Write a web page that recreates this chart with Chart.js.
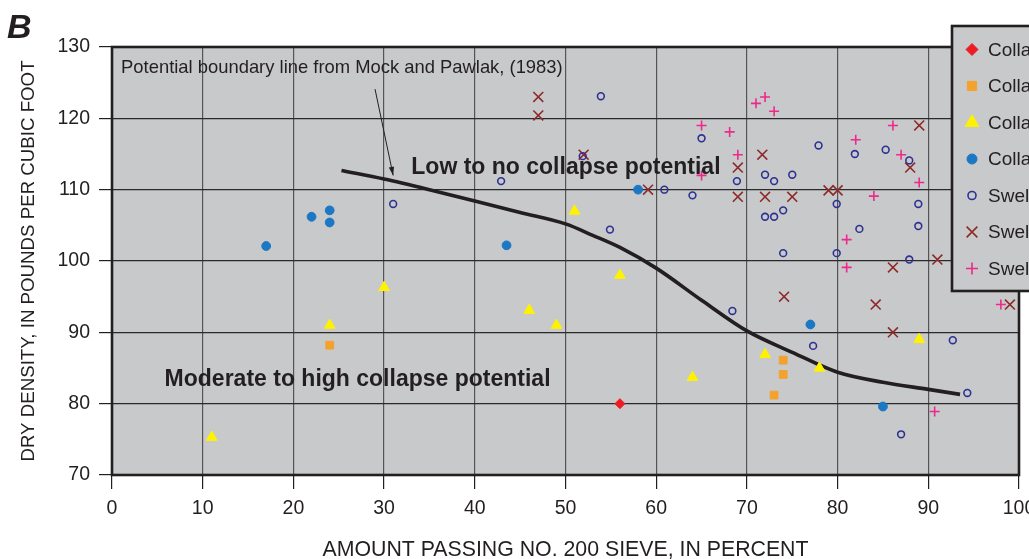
<!DOCTYPE html>
<html>
<head>
<meta charset="utf-8">
<script src="https://cdn.jsdelivr.net/npm/chart.js@4.4.1/dist/chart.umd.min.js"></script>
<style>
html,body{margin:0;padding:0;background:#fff;overflow:hidden}
#wrap{width:1029px;height:559px;position:relative}
</style>
</head>
<body>
<div id="wrap"><canvas id="c"></canvas></div>
<script>
// ---- data (x = amount passing No. 200 sieve, %, y = dry density, pcf) ----
const xTickValues = [0,10,20,30,40,50,60,70,80,90,100];
const yTickValues = [70,80,90,100,110,120,130];

const seriesLabels = [
  'Collapse, severe',
  'Collapse, moderately severe',
  'Collapse, moderate',
  'Collapse, slight',
  'Swell, low',
  'Swell, moderate',
  'Swell, high'
];

const collapseSevere = [[56,80]];
const collapseModSevere = [[24,88.2],[74,86.1],[74,84.1],[73,81.2]];
const collapseModerate = [[11,75.3],[24,91],[30,96.3],[46,93.1],[49,91],[51,107],[56,98],[64,83.7],[72,86.9],[78,85],[89,89]];
const collapseSlight = [[17,102.1],[22,106.2],[24,107.1],[24,105.4],[43.5,102.2],[58,110],[77,91.1],[85,79.6]];
const swellLow = [[31,108],[42.9,111.2],[51.9,114.7],[53.9,123.1],[54.9,104.4],[60.9,110],[64,109.2],[65,117.2],[68.4,93],[68.9,111.2],[72,112.1],[73,111.2],[75,112.1],[72,106.2],[73,106.2],[74,107.1],[74,101.1],[77.3,88.1],[77.9,116.2],[79.9,108],[79.9,101.1],[81.9,115],[82.4,104.5],[85.3,115.6],[87,75.7],[87.9,114.1],[87.9,100.2],[88.9,108],[88.9,104.9],[92.7,88.9],[94.3,81.5]];
const swellModerate = [[47,123],[47,120.4],[52,114.9],[59.1,110],[69,113.1],[69,109],[71.7,114.9],[72,109],[74.1,95],[75,109],[79,109.9],[80,109.9],[84.2,93.9],[86.1,99.1],[86.1,90],[88,113.1],[89,119],[91,100.2],[99,93.9]];
const swellHigh = [[65,119],[65,112],[68.1,118.1],[69,114.9],[71,122.1],[72,123],[73,121],[81,103],[81,99.1],[82,117],[84,109.1],[86.1,119],[87,114.9],[89,111],[90.7,78.9],[98,93.9]];
const boundaryLine = [[25.3,112.7],[30,111.5],[35,110],[40,108.4],[45,106.8],[50,105.2],[53,103.6],[56,101.9],[60,99],[65,94.5],[70,90.2],[75,87.2],[80,84.4],[85,83],[90,82],[93.5,81.3]];

const toXY = arr => arr.map(([x,y]) => ({x, y}));

const styles = [
  {pointStyle:'rectRot', radius:5, legendRadius:6, bg:'#ed1c24', border:'#ed1c24', bw:1},
  {pointStyle:'rect', radius:5.5, legendRadius:6.5, bg:'#f4a22e', border:'#f4a22e', bw:1},
  {pointStyle:'triangle', radius:6.2, legendRadius:7.8, bg:'#fff200', border:'#fff200', bw:1},
  {pointStyle:'circle', radius:4.4, legendRadius:5, bg:'#1c78c4', border:'#1c78c4', bw:1},
  {pointStyle:'circle', radius:3.4, legendRadius:4, bg:'rgba(0,0,0,0)', border:'#2e3192', bw:1.6},
  {pointStyle:'crossRot', radius:7, legendRadius:7.6, bg:'rgba(0,0,0,0)', border:'#8e2a2a', bw:1.6},
  {pointStyle:'cross', radius:5, legendRadius:6, bg:'rgba(0,0,0,0)', border:'#ec2a8c', bw:1.6}
];
const seriesData = [collapseSevere, collapseModSevere, collapseModerate, collapseSlight, swellLow, swellModerate, swellHigh];

const datasets = seriesData.map((d,i) => ({
  type:'scatter',
  label: seriesLabels[i],
  data: toXY(d),
  pointStyle: styles[i].pointStyle,
  pointRadius: styles[i].radius,
  pointHoverRadius: styles[i].radius,
  backgroundColor: styles[i].bg,
  borderColor: styles[i].border,
  pointBorderWidth: styles[i].bw,
  borderWidth: styles[i].bw,
  order: 1
}));
datasets.unshift({
  type:'line',
  label:'Potential boundary line',
  data: toXY(boundaryLine),
  borderColor:'#231f20',
  borderWidth:3.6,
  pointRadius:0,
  tension:0.4,
  cubicInterpolationMode:'monotone',
  fill:false,
  order: 2
});

const INK = '#231f20';
const FONT = "'Liberation Sans', Arial, Helvetica, sans-serif";

const framePlugin = {
  id:'frame',
  beforeDraw(chart){
    const {ctx, chartArea:a} = chart;
    ctx.save();
    ctx.fillStyle = '#c8c9cb';
    ctx.fillRect(a.left, a.top, a.right-a.left, a.bottom-a.top);
    ctx.restore();
  },
  afterDatasetsDraw(chart){
    const {ctx, chartArea:a, scales:{x, y}} = chart;
    ctx.save();
    ctx.strokeStyle = INK; ctx.lineWidth = 2.6;
    ctx.strokeRect(a.left, a.top, a.right-a.left, a.bottom-a.top);
    ctx.fillStyle = INK;
    ctx.textBaseline = 'middle';
    ctx.textAlign = 'left';
    ctx.font = '18.4px ' + FONT;
    ctx.fillText('Potential boundary line from Mock and Pawlak, (1983)', x.getPixelForValue(1.0), y.getPixelForValue(127.0));
    ctx.font = 'bold 23px ' + FONT;
    ctx.fillText('Low to no collapse potential', x.getPixelForValue(33.0), y.getPixelForValue(113.1));
    ctx.fillText('Moderate to high collapse potential', x.getPixelForValue(5.8), y.getPixelForValue(83.4));
    const x1 = x.getPixelForValue(29.0), y1 = y.getPixelForValue(124.1);
    const x2 = x.getPixelForValue(31.0), y2 = y.getPixelForValue(112.0);
    ctx.strokeStyle = INK; ctx.lineWidth = 1;
    ctx.beginPath(); ctx.moveTo(x1,y1); ctx.lineTo(x2,y2); ctx.stroke();
    const ang = Math.atan2(y2-y1, x2-x1);
    ctx.beginPath();
    ctx.moveTo(x2,y2);
    ctx.lineTo(x2 - 9*Math.cos(ang-0.3), y2 - 9*Math.sin(ang-0.3));
    ctx.lineTo(x2 - 9*Math.cos(ang+0.3), y2 - 9*Math.sin(ang+0.3));
    ctx.closePath(); ctx.fill();
    ctx.restore();
  },
  afterDraw(chart){
    const {ctx} = chart;
    ctx.save();
    ctx.fillStyle = INK;
    ctx.font = 'italic bold 34px ' + FONT;
    ctx.textBaseline = 'alphabetic';
    ctx.fillText('B', 7, 38);
    ctx.fillStyle = '#c8c9cb';
    ctx.fillRect(952, 26, 120, 265);
    ctx.strokeStyle = INK; ctx.lineWidth = 2.6;
    ctx.strokeRect(952, 26, 120, 265);
    ctx.font = '19px ' + FONT;
    ctx.textBaseline = 'middle';
    seriesLabels.forEach((lab, i) => {
      const cy = 49.5 + i*36.5, cx = 972;
      const s = styles[i];
      ctx.fillStyle = s.bg; ctx.strokeStyle = s.border; ctx.lineWidth = s.bw;
      drawMarker(ctx, s.pointStyle, s.legendRadius, cx, cy);
      ctx.fillStyle = INK;
      ctx.fillText(lab, 988, cy + 1);
    });
    ctx.restore();
  }
};

function drawMarker(ctx, style, r, x, y){
  ctx.beginPath();
  if (style === 'circle') {
    ctx.arc(x, y, r, 0, Math.PI*2); ctx.fill(); ctx.stroke();
  } else if (style === 'rect') {
    const h = r*Math.SQRT1_2; ctx.rect(x-h, y-h, 2*h, 2*h); ctx.fill(); ctx.stroke();
  } else if (style === 'rectRot') {
    ctx.moveTo(x, y-r); ctx.lineTo(x+r, y); ctx.lineTo(x, y+r); ctx.lineTo(x-r, y); ctx.closePath(); ctx.fill(); ctx.stroke();
  } else if (style === 'triangle') {
    ctx.moveTo(x, y-r); ctx.lineTo(x + r*Math.cos(Math.PI/6), y + r/2); ctx.lineTo(x - r*Math.cos(Math.PI/6), y + r/2); ctx.closePath(); ctx.fill(); ctx.stroke();
  } else if (style === 'crossRot') {
    const h = r*Math.SQRT1_2; ctx.moveTo(x-h,y-h); ctx.lineTo(x+h,y+h); ctx.moveTo(x+h,y-h); ctx.lineTo(x-h,y+h); ctx.stroke();
  } else if (style === 'cross') {
    ctx.moveTo(x-r,y); ctx.lineTo(x+r,y); ctx.moveTo(x,y-r); ctx.lineTo(x,y+r); ctx.stroke();
  }
}

new Chart(document.getElementById('c'), {
  data: { datasets },
  plugins: [framePlugin],
  options: {
    responsive: true,
    maintainAspectRatio: false,
    animation: false,
    layout: { padding: { top: 47, right: 10, left: 0, bottom: 0 } },
    plugins: { legend: { display:false }, tooltip: { enabled:false } },
    scales: {
      x: {
        type:'linear', min:0, max:100,
        afterBuildTicks: s => { s.ticks = xTickValues.map(v => ({value:v})); },
        afterFit: s => { s.height = 84; s.paddingLeft = 0; s.paddingRight = 0; },
        ticks: { color: INK, font: { size:19.5, family: FONT }, padding: 8, maxRotation:0, autoSkip:false },
        grid: { color:'#555555', lineWidth:1.2, tickColor: INK, tickLength: 14 },
        border: { display:false },
        title: { display:true, text:'AMOUNT PASSING NO. 200 SIEVE, IN PERCENT', color: INK, font:{ size:21.3, family: FONT }, padding:{ top:0, bottom:-4 } }
      },
      y: {
        type:'linear', min:70, max:130,
        afterBuildTicks: s => { s.ticks = yTickValues.map(v => ({value:v})); },
        afterFit: s => { s.width = 112; s.paddingTop = 0; s.paddingBottom = 0; },
        ticks: { color: INK, font: { size:19.5, family: FONT }, padding: 9 },
        grid: { color:'#2a2a2a', lineWidth:1.2, tickColor: INK, tickLength: 13 },
        border: { display:false },
        title: { display:true, text:'DRY DENSITY, IN POUNDS PER CUBIC FOOT', color: INK, font:{ size:18.7, family: FONT }, padding:{ top:18, bottom:0 } }
      }
    }
  }
});
</script>
</body>
</html>
